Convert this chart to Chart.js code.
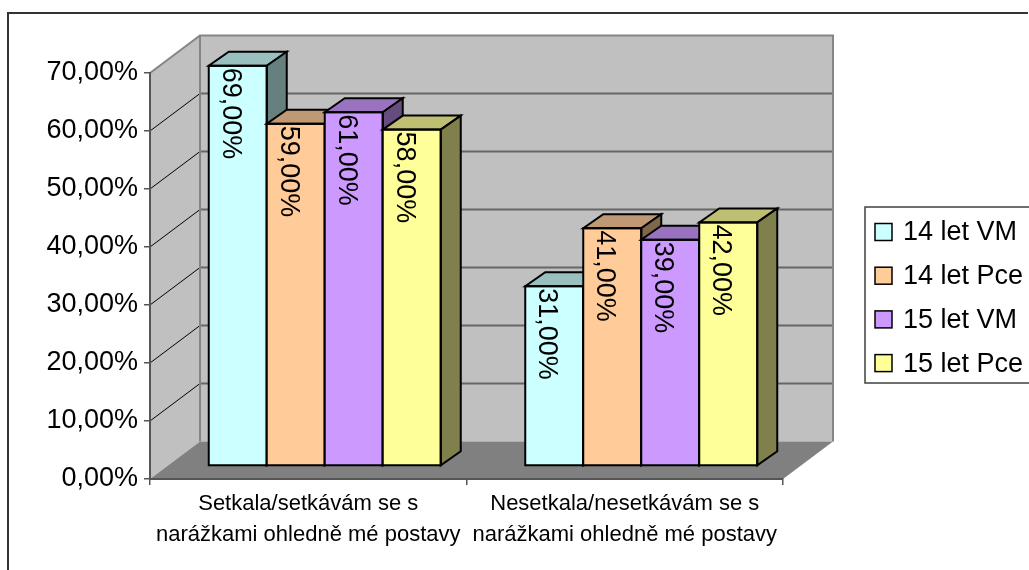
<!DOCTYPE html>
<html>
<head>
<meta charset="utf-8">
<script src="https://cdn.jsdelivr.net/npm/chart.js@4.4.1/dist/chart.umd.min.js"></script>
<style>
  html, body { margin: 0; padding: 0; background: #fff; }
  canvas { display: block; }
</style>
</head>
<body>
<canvas id="chart" width="1029" height="570"></canvas>
<script>
// Categories (two-line axis labels)
const categories = [
  ["Setkala/setkávám se s", "narážkami ohledně mé postavy"],
  ["Nesetkala/nesetkávám se s", "narážkami ohledně mé postavy"]
];

// Series names and values (percent)
const seriesNames = ["14 let VM", "14 let Pce", "15 let VM", "15 let Pce"];
const vm14  = [69, 31];
const pce14 = [59, 41];
const vm15  = [61, 39];
const pce15 = [58, 42];

// Value axis range
const yMin = 0;
const yMax = 70;
const yStep = 10;

const seriesValues = [vm14, pce14, vm15, pce15];
const seriesColors = ["#CCFFFF", "#FFCC99", "#CC99FF", "#FFFF99"];

const FONT = "'Liberation Sans', Arial, sans-serif";
const fmt = v => Number(v).toFixed(2).replace('.', ',') + '%';

// oblique depth of the walls / floor and of the columns
const WALL_DX = 50, WALL_DY = -37.5;
const BAR_DX = 16.5, BAR_DY = -13;
const COL_DX = 20, COL_DY = -14;

function shade(hex, f) {
  const n = parseInt(hex.slice(1), 16);
  const r = Math.round(((n >> 16) & 255) * f);
  const g = Math.round(((n >> 8) & 255) * f);
  const b = Math.round((n & 255) * f);
  return `rgb(${r},${g},${b})`;
}

const scene3d = {
  id: 'scene3d',
  beforeDraw(chart) {
    const { ctx, chartArea: a } = chart;
    const y = chart.scales.y;
    const L = a.left, R = a.right, T = a.top, B = a.bottom;
    const dx = WALL_DX, dy = WALL_DY;
    ctx.save();
    ctx.fillStyle = '#fff';
    ctx.fillRect(0, 0, chart.width, chart.height);

    // outer frame (top and left edges; the rest runs past the canvas)
    ctx.strokeStyle = '#333';
    ctx.lineWidth = 2;
    ctx.beginPath();
    ctx.moveTo(1028, 13); ctx.lineTo(8, 13); ctx.lineTo(8, chart.height + 5);
    ctx.stroke();

    // back wall and side wall
    ctx.fillStyle = '#C0C0C0';
    ctx.fillRect(L + dx, T + dy, R - L, B - T);
    ctx.beginPath();
    ctx.moveTo(L, T); ctx.lineTo(L + dx, T + dy); ctx.lineTo(L + dx, B + dy); ctx.lineTo(L, B);
    ctx.closePath(); ctx.fill();

    // floor
    ctx.fillStyle = '#808080';
    ctx.beginPath();
    ctx.moveTo(L, B); ctx.lineTo(L + dx, B + dy); ctx.lineTo(R + dx, B + dy); ctx.lineTo(R, B);
    ctx.closePath(); ctx.fill();

    // gridlines on side wall and back wall
    y.ticks.forEach(t => {
      if (t.value <= yMin || t.value >= yMax) return;
      const py = y.getPixelForValue(t.value);
      ctx.strokeStyle = '#000'; ctx.lineWidth = 1;
      ctx.beginPath(); ctx.moveTo(L, py); ctx.lineTo(L + dx, py + dy); ctx.stroke();
      ctx.strokeStyle = '#666'; ctx.lineWidth = 2;
      ctx.beginPath(); ctx.moveTo(L + dx, py + dy); ctx.lineTo(R + dx, py + dy); ctx.stroke();
    });

    // wall edges
    ctx.strokeStyle = '#858585'; ctx.lineWidth = 2;
    ctx.beginPath();
    ctx.moveTo(L, T); ctx.lineTo(L + dx, T + dy); ctx.lineTo(R + dx, T + dy); ctx.lineTo(R + dx, B + dy);
    ctx.stroke();
    ctx.beginPath(); ctx.moveTo(L + dx, T + dy); ctx.lineTo(L + dx, B + dy); ctx.stroke();
    ctx.restore();
  },

  beforeDatasetsDraw(chart) {
    const ctx = chart.ctx;
    const bars = [];
    chart.data.datasets.forEach((ds, di) => {
      chart.getDatasetMeta(di).data.forEach((el, i) => {
        bars.push({ el, color: ds.backgroundColor, value: ds.data[i] });
      });
    });
    // paint from left to right so nearer columns cover the ones behind
    bars.sort((p, q) => p.el.x - q.el.x);

    ctx.save();
    ctx.translate(BAR_DX, BAR_DY);
    ctx.lineJoin = 'miter';
    bars.forEach(b => {
      const { x, y, base, width } = b.el.getProps(['x', 'y', 'base', 'width'], true);
      const l = x - width / 2, r = x + width / 2;
      b.el.draw(ctx, chart.chartArea);
      ctx.strokeStyle = '#000';
      ctx.lineWidth = 2;
      // top face
      ctx.beginPath();
      ctx.moveTo(l, y); ctx.lineTo(r, y); ctx.lineTo(r + COL_DX, y + COL_DY); ctx.lineTo(l + COL_DX, y + COL_DY);
      ctx.closePath();
      ctx.fillStyle = shade(b.color, 0.75); ctx.fill(); ctx.stroke();
      // side face
      ctx.beginPath();
      ctx.moveTo(r, y); ctx.lineTo(r + COL_DX, y + COL_DY); ctx.lineTo(r + COL_DX, base + COL_DY); ctx.lineTo(r, base);
      ctx.closePath();
      ctx.fillStyle = shade(b.color, 0.5); ctx.fill(); ctx.stroke();
      // front outline
      ctx.strokeRect(l, y, width, base - y);
    });

    // value labels, rotated, at the inside end of each column
    ctx.fillStyle = '#000';
    ctx.font = `27px ${FONT}`;
    ctx.textAlign = 'left';
    ctx.textBaseline = 'alphabetic';
    bars.forEach(b => {
      const { x, y, width } = b.el.getProps(['x', 'y', 'width'], true);
      ctx.save();
      ctx.translate(x - width / 2 + 14, y + 2);
      ctx.rotate(Math.PI / 2);
      ctx.fillText(fmt(b.value), 0, 0);
      ctx.restore();
    });
    ctx.restore();
    return false;
  },

  afterDraw(chart) {
    const ctx = chart.ctx;
    ctx.save();
    ctx.strokeStyle = '#404040';
    ctx.lineWidth = 1.5;
    ctx.strokeRect(865, 207, 200, 176);
    ctx.font = `27px ${FONT}`;
    ctx.textAlign = 'left';
    ctx.textBaseline = 'middle';
    chart.data.datasets.forEach((ds, i) => {
      const cy = 232 + i * 43.7;
      ctx.fillStyle = ds.backgroundColor;
      ctx.fillRect(875, cy - 8.5, 17, 17);
      ctx.strokeStyle = '#000';
      ctx.lineWidth = 1.5;
      ctx.strokeRect(875, cy - 8.5, 17, 17);
      ctx.fillStyle = '#000';
      ctx.fillText(ds.label, 903, cy + 1);
    });
    ctx.restore();
  }
};

const axisGrid = { drawOnChartArea: false, drawTicks: true, tickLength: 6, color: '#555', lineWidth: 1.5 };
const axisBorder = { display: true, color: '#555', width: 2 };

new Chart(document.getElementById('chart'), {
  type: 'bar',
  data: {
    labels: categories,
    datasets: seriesNames.map((name, i) => ({
      label: name,
      data: seriesValues[i],
      backgroundColor: seriesColors[i],
      borderWidth: 0,
      categoryPercentage: 0.733,
      barPercentage: 1
    }))
  },
  options: {
    responsive: false,
    animation: false,
    devicePixelRatio: 1,
    layout: { padding: { top: 73, right: 246, bottom: 0, left: 0 } },
    plugins: { legend: { display: false }, tooltip: { enabled: false } },
    scales: {
      x: {
        grid: axisGrid,
        border: axisBorder,
        ticks: {
          color: '#000',
          font: { family: FONT, size: 22, lineHeight: 1.41 },
          padding: 3,
          maxRotation: 0,
          autoSkip: false
        },
        afterFit: s => { s.height = 91; }
      },
      y: {
        min: yMin,
        max: yMax,
        grid: axisGrid,
        border: axisBorder,
        ticks: {
          stepSize: yStep,
          color: '#000',
          font: { family: FONT, size: 27 },
          padding: 6,
          callback: v => fmt(v)
        },
        afterFit: s => { s.width = 150; }
      }
    }
  },
  plugins: [scene3d]
});
</script>
</body>
</html>
